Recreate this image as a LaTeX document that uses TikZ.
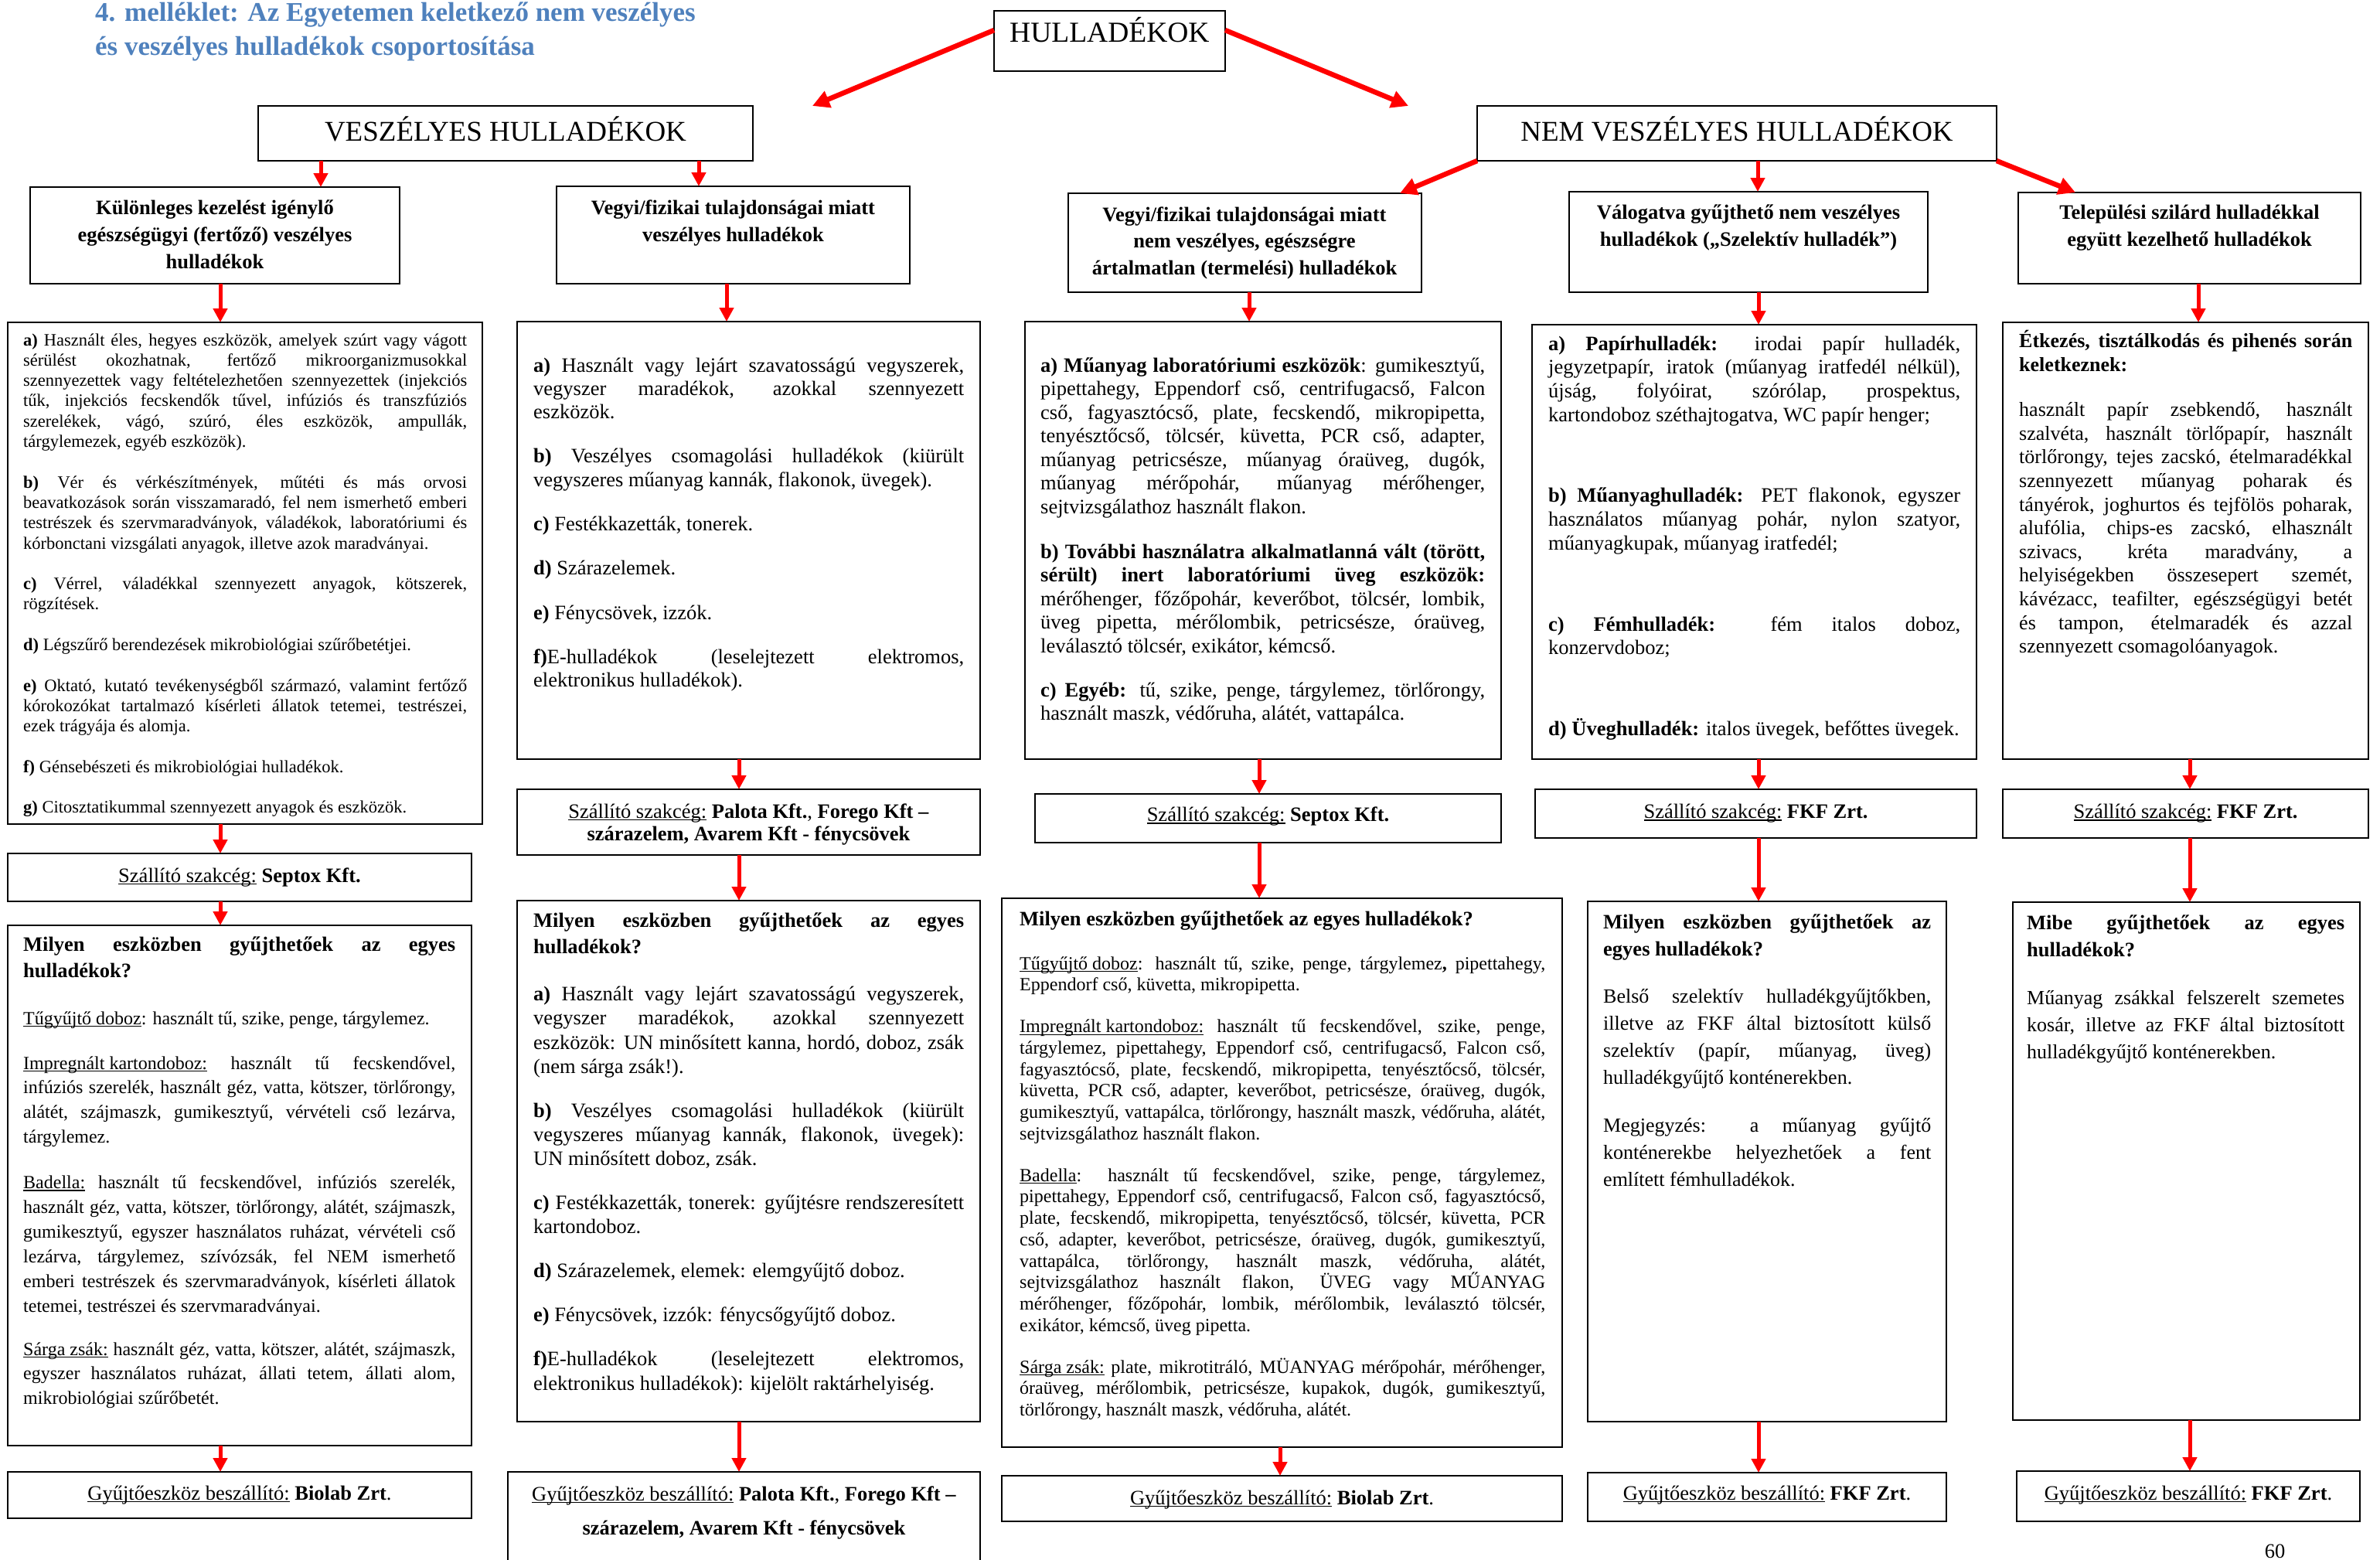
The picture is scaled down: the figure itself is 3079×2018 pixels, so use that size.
\documentclass[tikz,border=0pt]{standalone}
\usepackage{fontspec}
\setmainfont{Liberation Serif}
\usetikzlibrary{arrows.meta,fit}
\definecolor{titleblue}{RGB}{79,129,189}
\definecolor{arrred}{RGB}{255,0,0}
\newcommand\jl[1]{\hbox to\hsize{\strut#1}}
\newcommand\el[1]{\hbox to\hsize{\strut#1\hfil}}
\newcommand\cl[1]{\hbox to\hsize{\hfil\strut#1\hfil}}
\newcommand\gap[1]{\vskip#1pt\relax}
\newcommand\fs[2]{\fontsize{#1pt}{#2pt}\selectfont}
\newcommand\ul[1]{\setbox0\hbox{#1}\rlap{\rule[-0.13em]{\wd0}{0.055em}}\box0\relax}
\newcommand\tb[2]{\vtop{\lineskiplimit=-1000pt\hsize=#1pt #2}}
\tikzset{
  box/.style={draw=black, line width=2.5pt, inner sep=0pt, outer sep=0pt, rectangle},
  arr/.style={draw=arrred, line width=5pt, -{Triangle[length=18pt,width=18pt]}},
  darr/.style={draw=arrred, line width=6.5pt, -{Triangle[length=22pt,width=22pt]}},
  txt/.style={anchor=base west, inner sep=0pt},
  ctr/.style={anchor=base, inner sep=0pt},
}
\begin{document}
\begin{tikzpicture}[x=1pt,y=-1pt]
\useasboundingbox (0,0) rectangle (3079,2018);
\fill[white] (0,0) rectangle (3079,2018);
% title
\node[txt, font={\fs{35}{40}\bfseries}, text=titleblue] (title1) at (123,28) {4. melléklet: Az Egyetemen keletkező nem veszélyes};
\node[txt, font={\fs{35}{40}\bfseries}, text=titleblue] (title2) at (123,71) {és veszélyes hulladékok csoportosítása};
% top boxes
\node[box, fit={(1286,14) (1585,92)}] (hull) {};
\node[txt, font={\fs{37.5}{40}}] (hullT) at (1306,55) {HULLADÉKOK};
\node[box, fit={(334,137) (974,208)}] (vesz) {};
\node[ctr, font={\fs{37}{40}}] (veszT) at (654,182) {VESZÉLYES HULLADÉKOK};
\node[box, fit={(1911,137) (2583,208)}] (nem) {};
\node[ctr, font={\fs{37}{40}}] (nemT) at (2247,182) {NEM VESZÉLYES HULLADÉKOK};
% category boxes
\node[box, fit={(39,242) (517,367)}] (b1) {};
\node[ctr] (b1T) at (278,277) {\tb{470}{\fs{26.5}{35}\bfseries
\cl{Különleges kezelést igénylő}
\cl{egészségügyi (fertőző) veszélyes}
\cl{hulladékok}}};
\node[box, fit={(720,241) (1177,367)}] (b2) {};
\node[ctr] (b2T) at (948.5,277) {\tb{450}{\fs{26.5}{35}\bfseries
\cl{Vegyi/fizikai tulajdonságai miatt}
\cl{veszélyes hulladékok}}};
\node[box, fit={(1382,250) (1839,378)}] (b3) {};
\node[ctr] (b3T) at (1610,286) {\tb{450}{\fs{26.5}{34.5}\bfseries
\cl{Vegyi/fizikai tulajdonságai miatt}
\cl{nem veszélyes, egészségre}
\cl{ártalmatlan (termelési) hulladékok}}};
\node[box, fit={(2030,248) (2494,378)}] (b4) {};
\node[ctr] (b4T) at (2262,283) {\tb{455}{\fs{26.5}{35}\bfseries
\cl{Válogatva gyűjthető nem veszélyes}
\cl{hulladékok („Szelektív hulladék”)}}};
\node[box, fit={(2611,249) (3054,367)}] (b5) {};
\node[ctr] (b5T) at (2832.5,283) {\tb{435}{\fs{26.5}{35}\bfseries
\cl{Települési szilárd hulladékkal}
\cl{együtt kezelhető hulladékok}}};
% ---------- column 1
\node[box, fit={(10,417) (624,1066)}] (A1) {};
\node[txt] (A1t) at (30,447) {\tb{574}{\fs{22.5}{26.3}
\jl{\textbf{a)} Használt éles, hegyes eszközök, amelyek szúrt vagy vágott}
\jl{sérülést okozhatnak, fertőző mikroorganizmusokkal}
\jl{szennyezettek vagy feltételezhetően szennyezettek (injekciós}
\jl{tűk, injekciós fecskendők tűvel, infúziós és transzfúziós}
\jl{szerelékek, vágó, szúró, éles eszközök, ampullák,}
\el{tárgylemezek, egyéb eszközök).}
\gap{26.3}
\jl{\textbf{b)} Vér és vérkészítmények, műtéti és más orvosi}
\jl{beavatkozások során visszamaradó, fel nem ismerhető emberi}
\jl{testrészek és szervmaradványok, váladékok, laboratóriumi és}
\el{kórbonctani vizsgálati anyagok, illetve azok maradványai.}
\gap{26.3}
\jl{\textbf{c)} Vérrel, váladékkal szennyezett anyagok, kötszerek,}
\el{rögzítések.}
\gap{26.3}
\el{\textbf{d)} Légszűrő berendezések mikrobiológiai szűrőbetétjei.}
\gap{26.3}
\jl{\textbf{e)} Oktató, kutató tevékenységből származó, valamint fertőző}
\jl{kórokozókat tartalmazó kísérleti állatok tetemei, testrészei,}
\el{ezek trágyája és alomja.}
\gap{26.3}
\el{\textbf{f)} Génsebészeti és mikrobiológiai hulladékok.}
\gap{26.3}
\el{\textbf{g)} Citosztatikummal szennyezett anyagok és eszközök.}}};
\node[box, fit={(10,1104) (610,1166)}] (S1) {};
\node[ctr, font={\fs{26.5}{30}}] (S1t) at (310,1141) {\ul{Szállító szakcég:} \textbf{Septox Kft.}};
\node[box, fit={(10,1197) (610,1870)}] (M1) {};
\node[txt] (M1t) at (30,1230) {\tb{559}{\fs{26.5}{34}\bfseries
\jl{Milyen eszközben gyűjthetőek az egyes}
\el{hulladékok?}
\fs{24}{31.9}\mdseries\gap{29.1}
\el{\ul{Tűgyűjtő doboz}: használt tű, szike, penge, tárgylemez.}
\gap{26.1}
\jl{\ul{Impregnált kartondoboz:} használt tű fecskendővel,}
\jl{infúziós szerelék, használt géz, vatta, kötszer, törlőrongy,}
\jl{alátét, szájmaszk, gumikesztyű, vérvételi cső lezárva,}
\el{tárgylemez.}
\gap{27}
\jl{\ul{Badella:} használt tű fecskendővel, infúziós szerelék,}
\jl{használt géz, vatta, kötszer, törlőrongy, alátét, szájmaszk,}
\jl{gumikesztyű, egyszer használatos ruházat, vérvételi cső}
\jl{lezárva, tárgylemez, szívózsák, fel NEM ismerhető}
\jl{emberi testrészek és szervmaradványok, kísérleti állatok}
\el{tetemei, testrészei és szervmaradványai.}
\gap{24}
\jl{\ul{Sárga zsák:} használt géz, vatta, kötszer, alátét, szájmaszk,}
\jl{egyszer használatos ruházat, állati tetem, állati alom,}
\el{mikrobiológiai szűrőbetét.}}};
\node[box, fit={(10,1904) (610,1964)}] (G1) {};
\node[ctr, font={\fs{26.5}{30}}] (G1t) at (310,1940) {\ul{Gyűjtőeszköz beszállító:} \textbf{Biolab Zrt}.};
% ---------- column 2
\node[box, fit={(669,416) (1268,982)}] (B1) {};
\node[txt] (B1t) at (690,481) {\tb{557}{\fs{26.5}{30.3}
\jl{\textbf{a)} Használt vagy lejárt szavatosságú vegyszerek,}
\jl{vegyszer maradékok, azokkal szennyezett}
\el{eszközök.}
\gap{27}
\jl{\textbf{b)} Veszélyes csomagolási hulladékok (kiürült}
\el{vegyszeres műanyag kannák, flakonok, üvegek).}
\gap{27}
\el{\textbf{c)} Festékkazetták, tonerek.}
\gap{27}
\el{\textbf{d)} Szárazelemek.}
\gap{27}
\el{\textbf{e)} Fénycsövek, izzók.}
\gap{27}
\jl{\textbf{f)}E-hulladékok (leselejtezett elektromos,}
\el{elektronikus hulladékok).}}};
\node[box, fit={(669,1021) (1268,1106)}] (P2) {};
\node[ctr] (P2t) at (968.5,1058) {\tb{590}{\fs{26.5}{29}
\cl{\ul{Szállító szakcég:} \textbf{Palota Kft.}, \textbf{Forego Kft –}}
\cl{\textbf{szárazelem, Avarem Kft - fénycsövek}}}};
\node[box, fit={(669,1165) (1268,1839)}] (M2) {};
\node[txt] (M2t) at (690,1199) {\tb{557}{\fs{26.5}{34.7}\bfseries
\jl{Milyen eszközben gyűjthetőek az egyes}
\el{hulladékok?}
\fs{26.5}{31.2}\mdseries\gap{29.8}
\jl{\textbf{a)} Használt vagy lejárt szavatosságú vegyszerek,}
\jl{vegyszer maradékok, azokkal szennyezett}
\jl{eszközök: UN minősített kanna, hordó, doboz, zsák}
\el{(nem sárga zsák!).}
\gap{26}
\jl{\textbf{b)} Veszélyes csomagolási hulladékok (kiürült}
\jl{vegyszeres műanyag kannák, flakonok, üvegek):}
\el{UN minősített doboz, zsák.}
\gap{25}
\jl{\textbf{c)} Festékkazetták, tonerek: gyűjtésre rendszeresített}
\el{kartondoboz.}
\gap{26}
\el{\textbf{d)} Szárazelemek, elemek: elemgyűjtő doboz.}
\gap{26}
\el{\textbf{e)} Fénycsövek, izzók: fénycsőgyűjtő doboz.}
\gap{26}
\jl{\textbf{f)}E-hulladékok (leselejtezett elektromos,}
\el{elektronikus hulladékok): kijelölt raktárhelyiség.}}};
\node[box, fit={(657,1904) (1268,2040)}] (G2) {};
\node[ctr] (G2t) at (962.5,1941) {\tb{600}{\fs{26.5}{44}
\cl{\ul{Gyűjtőeszköz beszállító:} \textbf{Palota Kft.}, \textbf{Forego Kft –}}
\cl{\textbf{szárazelem, Avarem Kft - fénycsövek}}}};
% ---------- column 3
\node[box, fit={(1326,416) (1942,982)}] (C1) {};
\node[txt] (C1t) at (1346,481) {\tb{575}{\fs{26.5}{30.5}
\jl{\textbf{a) Műanyag laboratóriumi eszközök}: gumikesztyű,}
\jl{pipettahegy, Eppendorf cső, centrifugacső, Falcon}
\jl{cső, fagyasztócső, plate, fecskendő, mikropipetta,}
\jl{tenyésztőcső, tölcsér, küvetta, PCR cső, adapter,}
\jl{műanyag petricsésze, műanyag óraüveg, dugók,}
\jl{műanyag mérőpohár, műanyag mérőhenger,}
\el{sejtvizsgálathoz használt flakon.}
\gap{27.5}
\jl{\textbf{b) További használatra alkalmatlanná vált (törött,}}
\jl{\textbf{sérült) inert laboratóriumi üveg eszközök:}}
\jl{mérőhenger, főzőpohár, keverőbot, tölcsér, lombik,}
\jl{üveg pipetta, mérőlombik, petricsésze, óraüveg,}
\el{leválasztó tölcsér, exikátor, kémcső.}
\gap{26.5}
\jl{\textbf{c) Egyéb:} tű, szike, penge, tárgylemez, törlőrongy,}
\el{használt maszk, védőruha, alátét, vattapálca.}}};
\node[box, fit={(1339,1027) (1942,1090)}] (S3) {};
\node[ctr, font={\fs{26.5}{30}}] (S3t) at (1640.5,1062.5) {\ul{Szállító szakcég:} \textbf{Septox Kft.}};
\node[box, fit={(1296,1162) (2021,1872)}] (M3) {};
\node[txt] (M3t) at (1319,1197) {\tb{680}{\fs{26.5}{30}\bfseries
\el{Milyen eszközben gyűjthetőek az egyes hulladékok?}
\fs{24}{27.7}\mdseries\gap{29.3}
\jl{\ul{Tűgyűjtő doboz}: használt tű, szike, penge, tárgylemez\textbf{,} pipettahegy,}
\el{Eppendorf cső, küvetta, mikropipetta.}
\gap{26.3}
\jl{\ul{Impregnált kartondoboz:} használt tű fecskendővel, szike, penge,}
\jl{tárgylemez, pipettahegy, Eppendorf cső, centrifugacső, Falcon cső,}
\jl{fagyasztócső, plate, fecskendő, mikropipetta, tenyésztőcső, tölcsér,}
\jl{küvetta, PCR cső, adapter, keverőbot, petricsésze, óraüveg, dugók,}
\jl{gumikesztyű, vattapálca, törlőrongy, használt maszk, védőruha, alátét,}
\el{sejtvizsgálathoz használt flakon.}
\gap{26.3}
\jl{\ul{Badella}: használt tű fecskendővel, szike, penge, tárgylemez,}
\jl{pipettahegy, Eppendorf cső, centrifugacső, Falcon cső, fagyasztócső,}
\jl{plate, fecskendő, mikropipetta, tenyésztőcső, tölcsér, küvetta, PCR}
\jl{cső, adapter, keverőbot, petricsésze, óraüveg, dugók, gumikesztyű,}
\jl{vattapálca, törlőrongy, használt maszk, védőruha, alátét,}
\jl{sejtvizsgálathoz használt flakon, ÜVEG vagy MŰANYAG}
\jl{mérőhenger, főzőpohár, lombik, mérőlombik, leválasztó tölcsér,}
\el{exikátor, kémcső, üveg pipetta.}
\gap{26.3}
\jl{\ul{Sárga zsák:} plate, mikrotitráló, MÜANYAG mérőpohár, mérőhenger,}
\jl{óraüveg, mérőlombik, petricsésze, kupakok, dugók, gumikesztyű,}
\el{törlőrongy, használt maszk, védőruha, alátét.}}};
\node[box, fit={(1296,1909) (2021,1968)}] (G3) {};
\node[ctr, font={\fs{26.5}{30}}] (G3t) at (1658.5,1946) {\ul{Gyűjtőeszköz beszállító:} \textbf{Biolab Zrt}.};
% ---------- column 4
\node[box, fit={(1982,420) (2557,982)}] (D1) {};
\node[txt] (D1t) at (2003,453) {\tb{533}{\fs{26.5}{30.8}
\jl{\textbf{a) Papírhulladék:} irodai papír hulladék,}
\jl{jegyzetpapír, iratok (műanyag iratfedél nélkül),}
\jl{újság, folyóirat, szórólap, prospektus,}
\el{kartondoboz széthajtogatva, WC papír henger;}
\gap{73.5}
\jl{\textbf{b) Műanyaghulladék:} PET flakonok, egyszer}
\jl{használatos műanyag pohár, nylon szatyor,}
\el{műanyagkupak, műanyag iratfedél;}
\gap{74}
\jl{\textbf{c) Fémhulladék:} fém italos doboz,}
\el{konzervdoboz;}
\gap{74}
\el{\textbf{d) Üveghulladék:} italos üvegek, befőttes üvegek.}}};
\node[box, fit={(1986,1021) (2557,1084)}] (F4) {};
\node[ctr, font={\fs{26.5}{30}}] (F4t) at (2271.5,1058.5) {\ul{Szállító szakcég:} \textbf{FKF Zrt.}};
\node[box, fit={(2054,1166) (2518,1839)}] (M4) {};
\node[txt] (M4t) at (2074,1201) {\tb{424}{\fs{26.5}{35}\bfseries
\jl{Milyen eszközben gyűjthetőek az}
\el{egyes hulladékok?}
\fs{26}{35}\mdseries\gap{26}
\jl{Belső szelektív hulladékgyűjtőkben,}
\jl{illetve az FKF által biztosított külső}
\jl{szelektív (papír, műanyag, üveg)}
\el{hulladékgyűjtő konténerekben.}
\gap{27}
\jl{Megjegyzés: a műanyag gyűjtő}
\jl{konténerekbe helyezhetőek a fent}
\el{említett fémhulladékok.}}};
\node[box, fit={(2054,1905) (2518,1968)}] (G4) {};
\node[ctr, font={\fs{26.5}{30}}] (G4t) at (2286,1940) {\ul{Gyűjtőeszköz beszállító:} \textbf{FKF Zrt}.};
% ---------- column 5
\node[box, fit={(2591,417) (3064,982)}] (E1) {};
\node[txt] (E1t) at (2612,449.5) {\tb{431}{\fs{26}{30.6}\bfseries
\jl{Étkezés, tisztálkodás és pihenés során}
\el{keletkeznek:}
\mdseries\gap{28}
\jl{használt papír zsebkendő, használt}
\jl{szalvéta, használt törlőpapír, használt}
\jl{törlőrongy, tejes zacskó, ételmaradékkal}
\jl{szennyezett műanyag poharak és}
\jl{tányérok, joghurtos és tejfölös poharak,}
\jl{alufólia, chips-es zacskó, elhasznált}
\jl{szivacs, kréta maradvány, a}
\jl{helyiségekben összesepert szemét,}
\jl{kávézacc, teafilter, egészségügyi betét}
\jl{és tampon, ételmaradék és azzal}
\el{szennyezett csomagolóanyagok.}}};
\node[box, fit={(2591,1021) (3064,1084)}] (F5) {};
\node[ctr, font={\fs{26.5}{30}}] (F5t) at (2827.5,1058.5) {\ul{Szállító szakcég:} \textbf{FKF Zrt.}};
\node[box, fit={(2604,1167) (3053,1837)}] (M5) {};
\node[txt] (M5t) at (2622,1202) {\tb{411}{\fs{26.5}{35}\bfseries
\jl{Mibe gyűjthetőek az egyes}
\el{hulladékok?}
\fs{26}{35}\mdseries\gap{27}
\jl{Műanyag zsákkal felszerelt szemetes}
\jl{kosár, illetve az FKF által biztosított}
\el{hulladékgyűjtő konténerekben.}}};
\node[box, fit={(2609,1903) (3053,1968)}] (G5) {};
\node[ctr, font={\fs{26.5}{30}}] (G5t) at (2831,1940) {\ul{Gyűjtőeszköz beszállító:} \textbf{FKF Zrt}.};
% page number
\node[ctr, font={\fs{26.5}{30}}] (pnum) at (2943,2015) {60};
% ---------- arrows
\coordinate (tipL) at (1051,137);
\coordinate (tipR) at (1822,137);
\draw[darr] (hull.west |- 0,39) -- (tipL);
\draw[darr] (hull.east |- 0,39) -- (tipR);
\draw[arr] (vesz.south -| 415,0) -- (b1.north -| 415,0);
\draw[arr] (vesz.south -| 904,0) -- (b2.north -| 904,0);
\draw[darr] (nem.south west) -- ([xshift=-28pt]b3.north east);
\draw[arr] (nem.south -| 2274,0) -- (b4.north -| 2274,0);
\draw[darr] (nem.south east) -- ([xshift=74pt]b5.north west);
\draw[arr] (b1.south -| 285,0) -- (A1.north -| 285,0);
\draw[arr] (A1.south -| 285,0) -- (S1.north -| 285,0);
\draw[arr] (S1.south -| 285,0) -- (M1.north -| 285,0);
\draw[arr] (M1.south -| 285,0) -- (G1.north -| 285,0);
\draw[arr] (b2.south -| 940,0) -- (B1.north -| 940,0);
\draw[arr] (B1.south -| 956,0) -- (P2.north -| 956,0);
\draw[arr] (P2.south -| 956,0) -- (M2.north -| 956,0);
\draw[arr] (M2.south -| 956,0) -- (G2.north -| 956,0);
\draw[arr] (b3.south -| 1616,0) -- (C1.north -| 1616,0);
\draw[arr] (C1.south -| 1629,0) -- (S3.north -| 1629,0);
\draw[arr] (S3.south -| 1629,0) -- (M3.north -| 1629,0);
\draw[arr] (M3.south -| 1656,0) -- (G3.north -| 1656,0);
\draw[arr] (b4.south -| 2275,0) -- (D1.north -| 2275,0);
\draw[arr] (D1.south -| 2275,0) -- (F4.north -| 2275,0);
\draw[arr] (F4.south -| 2275,0) -- (M4.north -| 2275,0);
\draw[arr] (M4.south -| 2275,0) -- (G4.north -| 2275,0);
\draw[arr] (b5.south -| 2844,0) -- (E1.north -| 2844,0);
\draw[arr] (E1.south -| 2833,0) -- (F5.north -| 2833,0);
\draw[arr] (F5.south -| 2833,0) -- (M5.north -| 2833,0);
\draw[arr] (M5.south -| 2833,0) -- (G5.north -| 2833,0);
\end{tikzpicture}
\end{document}
